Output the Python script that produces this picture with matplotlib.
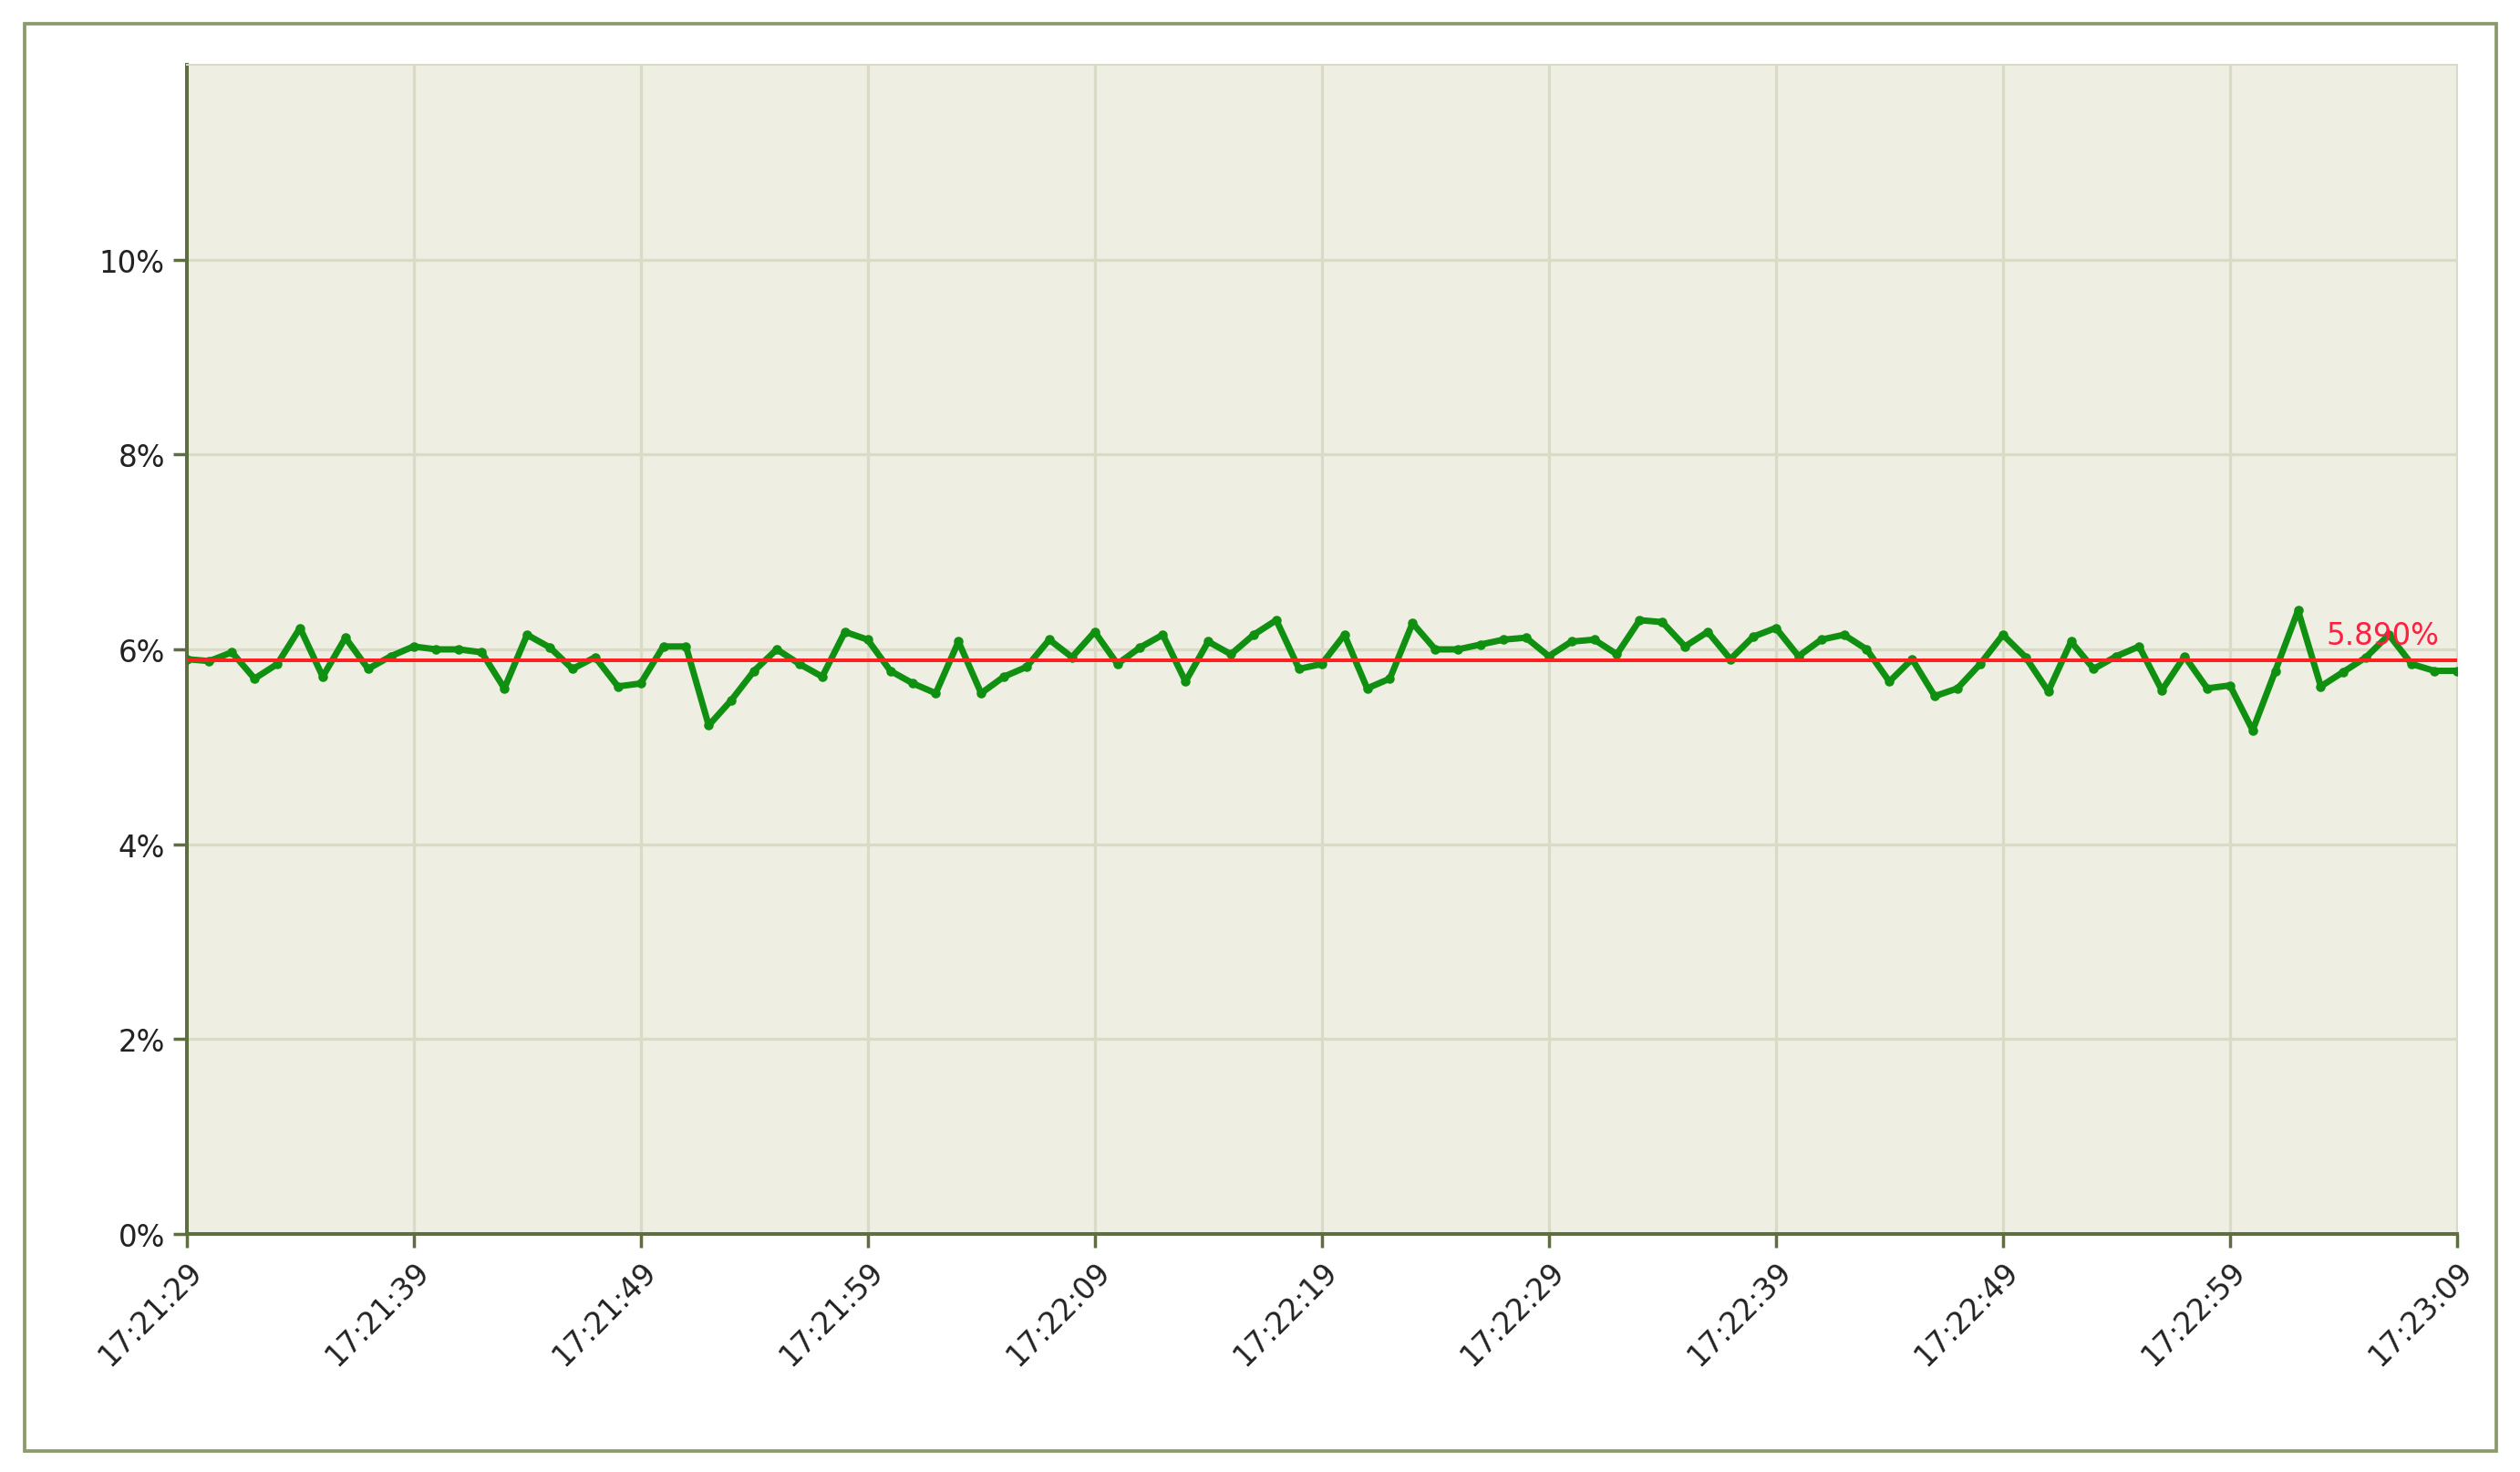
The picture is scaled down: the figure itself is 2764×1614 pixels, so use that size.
import matplotlib
matplotlib.use("Agg")
import matplotlib.pyplot as plt
from matplotlib.patches import Rectangle

values = [5.9,5.88,5.97,5.7,5.85,6.22,5.72,6.12,5.8,5.93,6.03,6.0,6.0,5.97,5.6,6.15,6.02,5.8,5.92,5.62,
          5.65,6.03,6.03,5.22,5.48,5.78,6.0,5.85,5.72,6.18,6.1,5.78,5.65,5.55,6.08,5.55,5.72,5.82,6.1,5.92,
          6.18,5.85,6.02,6.15,5.67,6.08,5.95,6.15,6.3,5.8,5.85,6.15,5.6,5.7,6.27,6.0,6.0,6.05,6.1,6.12,
          5.93,6.08,6.1,5.95,6.3,6.28,6.03,6.18,5.9,6.13,6.22,5.93,6.1,6.15,6.0,5.67,5.9,5.52,5.6,5.85,
          6.15,5.92,5.57,6.08,5.8,5.93,6.03,5.58,5.93,5.6,5.63,5.17,5.78,6.4,5.62,5.77,5.92,6.15,5.85,5.78,5.78]
mean_value = 5.89
tick_labels = ["17:21:29","17:21:39","17:21:49","17:21:59","17:22:09","17:22:19",
               "17:22:29","17:22:39","17:22:49","17:22:59","17:23:09"]
y_ticks = [0,2,4,6,8,10]

fig = plt.figure(figsize=(2764/180, 1615/180), dpi=180)
fig.patches.append(Rectangle((0.0096, 0.014), 0.981, 0.969, transform=fig.transFigure,
                             fill=False, edgecolor="#8a9a6a", linewidth=1.5))
ax = fig.add_axes([0.074, 0.1615, 0.901, 0.794])
ax.set_facecolor("#efeee2")
n = len(values)
span = 100.0
xs = [i * span / (n - 1) for i in range(n)]
ax.plot(xs, values, color="#109010", linewidth=2.8, marker="o", markersize=3.2, zorder=3)
ax.axhline(mean_value, color="#ff2020", linewidth=1.6, zorder=4)
ax.text(99.2, mean_value + 0.1, f"{mean_value:.3f}%", color="#ff2040", fontsize=13,
        ha="right", va="bottom", zorder=5)
ax.set_xlim(0, span)
ax.set_ylim(0, 12)
ax.set_xticks([i * 10 for i in range(len(tick_labels))])
ax.set_xticklabels(tick_labels, rotation=45, ha="right", rotation_mode="anchor", fontsize=13)
ax.set_yticks(y_ticks)
ax.set_yticklabels([f"{v}%" for v in y_ticks], fontsize=13)
ax.grid(True, color="#d8dbc6", linewidth=1.3)
ax.set_axisbelow(True)
for s in ["left", "bottom"]:
    ax.spines[s].set_color("#5f6e40"); ax.spines[s].set_linewidth(1.6)
for s in ["top", "right"]:
    ax.spines[s].set_color("#d8dbc6")
ax.tick_params(colors="#5f6e40", labelcolor="#222222", length=6, width=1.4)
fig.savefig("out.png", dpi=180, facecolor="white")
